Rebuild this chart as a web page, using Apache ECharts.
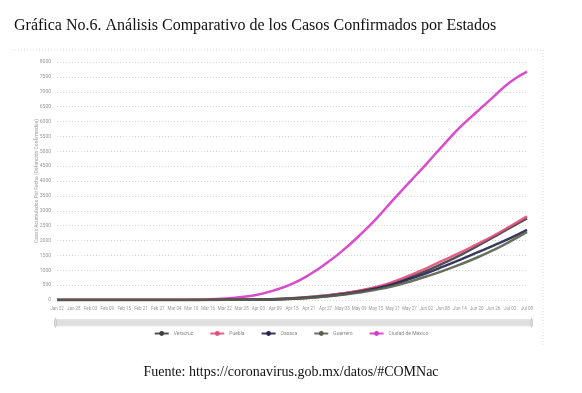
<!DOCTYPE html>
<html>
<head>
<meta charset="utf-8">
<script src="https://cdn.jsdelivr.net/npm/echarts@6/dist/echarts.min.js"></script>
<style>
  html, body { margin: 0; padding: 0; background: #fff; }
  #chart { width: 582px; height: 393px; }
</style>
</head>
<body>
<div id="chart"></div>
<script>
// fechas (cada 6 dias)
var fechas = ['Jan 22', 'Jan 28', 'Feb 03', 'Feb 09', 'Feb 15', 'Feb 21', 'Feb 27', 'Mar 04',
  'Mar 10', 'Mar 16', 'Mar 22', 'Mar 28', 'Apr 03', 'Apr 09', 'Apr 15', 'Apr 21', 'Apr 27',
  'May 03', 'May 09', 'May 15', 'May 21', 'May 27', 'Jun 02', 'Jun 08', 'Jun 14', 'Jun 20',
  'Jun 26', 'Jul 02', 'Jul 08'];

var veracruz = [0, 0, 0, 0, 0, 0, 0, 0, 2, 5, 10, 15, 20, 30, 60, 100, 155, 220, 305, 415, 565, 760, 980, 1230, 1500, 1800, 2110, 2430, 2740];
var puebla = [0, 0, 0, 0, 0, 0, 0, 0, 2, 5, 8, 12, 16, 25, 50, 90, 145, 220, 315, 435, 605, 825, 1065, 1330, 1590, 1870, 2160, 2480, 2810];
var oaxaca = [0, 0, 0, 0, 0, 0, 0, 0, 1, 3, 5, 8, 12, 20, 40, 75, 125, 190, 275, 385, 525, 700, 900, 1120, 1350, 1590, 1830, 2080, 2360];
var guerrero = [0, 0, 0, 0, 0, 0, 0, 0, 1, 3, 5, 8, 12, 18, 38, 70, 115, 175, 250, 345, 465, 615, 790, 980, 1190, 1420, 1680, 1970, 2290];
var cdmx = [0, 0, 0, 0, 0, 0, 0, 0, 8, 20, 50, 100, 185, 335, 540, 840, 1215, 1650, 2160, 2720, 3350, 3960, 4570, 5200, 5800, 6320, 6830, 7330, 7680];

var nombres = ['Veracruz', 'Puebla', 'Oaxaca', 'Guerrero', 'Ciudad de México'];
var colores = ['#3c3c44', '#e0507a', '#24244e', '#58604c', '#d53ac6'];
var valores = [veracruz, puebla, oaxaca, guerrero, cdmx];

var chart = echarts.init(document.getElementById('chart'));

var series = nombres.map(function (n, i) {
  return {
    name: n,
    type: 'line',
    data: valores[i],
    smooth: true,
    showSymbol: false,
    symbol: 'circle',
    symbolSize: 4,
    z: i === 4 ? 1 : 2,
    lineStyle: { width: 2.5, color: colores[i], opacity: 0.9 },
    itemStyle: { color: colores[i] }
  };
});

chart.setOption({
  animation: false,
  title: {
    text: 'Gráfica No.6. Análisis Comparativo de los Casos Confirmados por Estados',
    left: 9,
    top: 13,
    textStyle: {
      fontFamily: 'Liberation Serif',
      fontWeight: 'normal',
      fontSize: 16,
      color: '#111'
    }
  },
  graphic: [
    {
      type: 'line',
      shape: { x1: 12, y1: 50, x2: 543, y2: 50 },
      style: { stroke: '#d8d8d8', lineWidth: 1, lineDash: [1, 2] }
    },
    {
      type: 'line',
      shape: { x1: 543, y1: 50, x2: 543, y2: 345 },
      style: { stroke: '#e0e0e0', lineWidth: 1, lineDash: [1, 2] }
    },
    {
      // nombre del eje y
      type: 'text',
      x: 37,
      y: 181,
      rotation: Math.PI / 2,
      style: {
        text: 'Casos Acumulados Por Fecha (Defunción Confirmados)',
        fontFamily: 'Roboto',
        fontSize: 5,
        fill: '#999',
        align: 'center',
        verticalAlign: 'middle'
      }
    },
    {
      type: 'text',
      left: 'center',
      top: 365,
      style: {
        text: 'Fuente: https://coronavirus.gob.mx/datos/#COMNac',
        fontFamily: 'Liberation Serif',
        fontSize: 14,
        fill: '#111'
      }
    }
  ],
  legend: {
    data: nombres,
    bottom: 52,
    left: 'center',
    itemGap: 16,
    itemWidth: 14,
    itemHeight: 6,
    textStyle: { fontSize: 5, color: '#888', fontFamily: 'Roboto' }
  },
  grid: {
    left: 57,
    right: 55,
    top: 62,
    bottom: 93
  },
  xAxis: {
    type: 'category',
    data: fechas,
    boundaryGap: false,
    axisLine: { show: false },
    axisTick: { show: false },
    axisLabel: { interval: 0, fontSize: 4.5, color: '#999', margin: 6, fontFamily: 'Roboto' }
  },
  yAxis: {
    type: 'value',
    min: 0,
    max: 8000,
    interval: 500,
    axisLine: { show: false },
    axisTick: { show: false },
    axisLabel: {
      fontSize: 5, color: '#999', margin: 6, fontFamily: 'Roboto',
      formatter: function (v) { return String(v); }
    },
    splitLine: { lineStyle: { color: '#d4d4d4', type: [1, 2] } }
  },
  dataZoom: [{
    type: 'slider',
    start: 0,
    end: 100,
    left: 52,
    right: 52,
    bottom: 68,
    height: 7,
    borderColor: '#e6e6e6',
    backgroundColor: '#eee',
    fillerColor: 'rgba(200,200,200,0.4)',
    dataBackground: { lineStyle: { opacity: 0 }, areaStyle: { opacity: 0 } },
    selectedDataBackground: { lineStyle: { opacity: 0 }, areaStyle: { opacity: 0 } },
    handleSize: 10,
    handleStyle: { color: '#ddd', borderColor: '#ccc' },
    moveHandleSize: 0,
    showDetail: false
  }],
  series: series
});
</script>
</body>
</html>
